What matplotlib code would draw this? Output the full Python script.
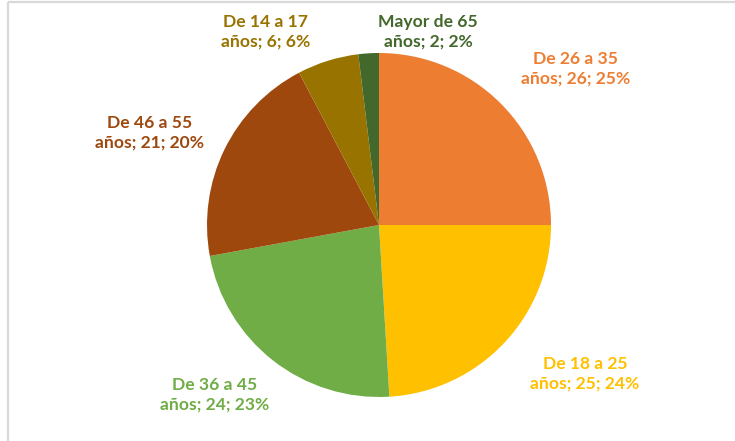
import matplotlib
matplotlib.use("Agg")
import matplotlib.pyplot as plt

categories = ["De 26 a 35 años", "De 18 a 25 años", "De 36 a 45 años",
              "De 46 a 55 años", "De 14 a 17 años", "Mayor de 65 años"]
label_lines = ["De 26 a 35\naños; {v}; {p}%", "De 18 a 25\naños; {v}; {p}%",
               "De 36 a 45\naños; {v}; {p}%", "De 46 a 55\naños; {v}; {p}%",
               "De 14 a 17\naños; {v}; {p}%", "Mayor de 65\naños; {v}; {p}%"]
values = [26, 25, 24, 21, 6, 2]
colors = ["#ED7D31", "#FFC000", "#70AD47", "#9E480E", "#997300", "#43682B"]

W, H = 735, 441
fig = plt.figure(figsize=(W / 100, H / 100), dpi=100)
ax = fig.add_axes([0, 0, 1, 1])

cx, cy, r = 379, H - 225, 172
ax.pie(values, colors=colors, startangle=90, counterclock=False,
       center=(cx, cy), radius=r, frame=True,
       wedgeprops=dict(linewidth=0))
ax.set_xlim(0, W)
ax.set_ylim(0, H)
ax.set_aspect("equal")
ax.axis("off")

total = sum(values)
label_pos = [(576, 69), (585, 374), (215, 395), (150, 133), (266, 32), (428, 32)]
for lab, v, c, (px, py) in zip(label_lines, values, colors, label_pos):
    p = round(100 * v / total)
    ax.text(px, H - py, lab.format(v=v, p=p), color=c, ha="center", va="center",
            fontsize=12.6, fontweight="bold", family="Lato", linespacing=1.3)

# frame lines (top and left)
ax.plot([8.5, W], [H - 1.5, H - 1.5], color="#D9D9D9", lw=1.6, solid_capstyle="butt")
ax.plot([8.5, 8.5], [0, H - 1.5], color="#D9D9D9", lw=1.6, solid_capstyle="butt")

fig.savefig("out.png", dpi=100)
